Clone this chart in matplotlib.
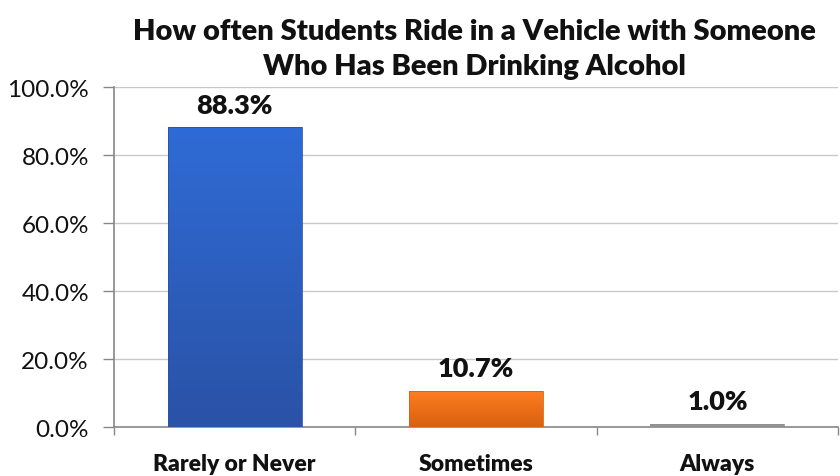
import matplotlib
matplotlib.use("Agg")
import matplotlib.pyplot as plt
import matplotlib.colors as mcolors
import numpy as np

categories = ["Rarely or Never", "Sometimes", "Always"]
values = [88.3, 10.7, 1.0]
top_colors = ["#2F6BD6", "#FF7E22", "#A0A0A0"]
bottom_colors = ["#2A52A6", "#D8600F", "#909090"]
yticks = [0, 20, 40, 60, 80, 100]

plt.rcParams["font.family"] = ["Lato", "DejaVu Sans"]
heavy = "heavy"

fig = plt.figure(figsize=(8.4, 4.77), dpi=100)
ax = fig.add_axes([0.1357, 0.1027, 0.862, 0.7128])

x = np.arange(len(categories))
width = 0.555
bars = ax.bar(x, values, width=width, color="none", edgecolor="none", zorder=3)

# vertical gradient fill for each bar
grad = np.linspace(1, 0, 256).reshape(-1, 1)
for bar, c_top, c_bot in zip(bars, top_colors, bottom_colors):
    cmap = mcolors.LinearSegmentedColormap.from_list("g", [c_bot, c_top])
    x0, y0 = bar.get_x(), bar.get_y()
    w, h = bar.get_width(), bar.get_height()
    im = ax.imshow(grad, cmap=cmap, aspect="auto", extent=[x0, x0 + w, y0, y0 + h],
                   zorder=3, vmin=0, vmax=1)
    im.set_clip_path(bar)
    ax.add_patch(plt.Rectangle((x0, y0), w, h, fill=False, edgecolor=c_bot,
                               linewidth=0.6, zorder=4))

for xi, v in zip(x, values):
    ax.text(xi, v + 3.0, f"{v:.1f}%", ha="center", va="bottom",
            fontsize=19.5, fontweight=heavy, color="#111111", zorder=5)

ax.set_xlim(-0.5, len(categories) - 0.5)
ax.set_ylim(0, 100)
ax.set_yticks(yticks)
ax.set_yticklabels([f"{t:.1f}%" for t in yticks], fontsize=17.5, color="#111111")
ax.set_xticks(x)
ax.set_xticklabels(categories, fontsize=16.5, fontweight=heavy, color="#111111")
ax.tick_params(axis="x", length=0, pad=19)
ax.set_xticks([-0.5, 0.5, 1.5, 2.5], minor=True)
ax.tick_params(axis="x", which="minor", length=6, color="#888888", width=1)
ax.tick_params(axis="y", length=8, color="#888888", width=1, pad=10)

ax.grid(axis="y", color="#C8C8C8", linewidth=1, zorder=0)
ax.set_axisbelow(True)
for side in ["top", "right"]:
    ax.spines[side].set_visible(False)
for side in ["left", "bottom"]:
    ax.spines[side].set_color("#888888")
    ax.spines[side].set_linewidth(1.2)

fig.suptitle("How often Students Ride in a Vehicle with Someone\nWho Has Been Drinking Alcohol",
             x=0.565, y=0.96, fontsize=21, fontweight=heavy, color="#111111",
             linespacing=1.43)

fig.savefig("out.png", dpi=100)
